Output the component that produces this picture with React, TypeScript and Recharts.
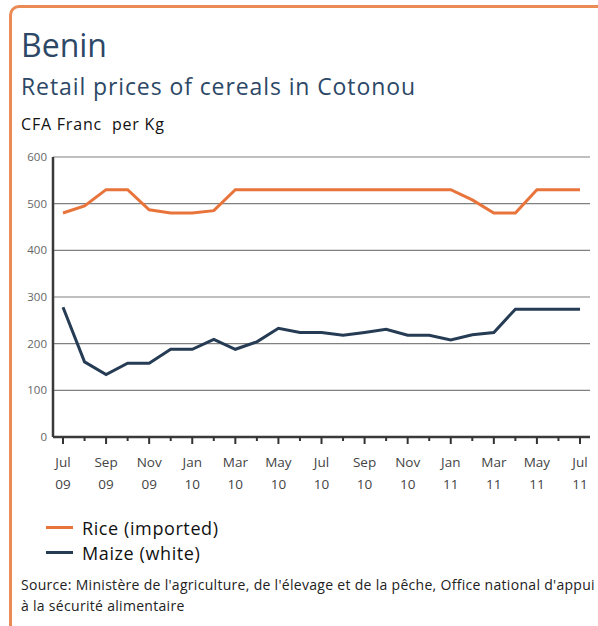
import React from 'react';
import { LineChart, Line, XAxis, YAxis, CartesianGrid } from 'recharts';

const periods = [
  'Jul 09', 'Aug 09', 'Sep 09', 'Oct 09', 'Nov 09', 'Dec 09',
  'Jan 10', 'Feb 10', 'Mar 10', 'Apr 10', 'May 10', 'Jun 10',
  'Jul 10', 'Aug 10', 'Sep 10', 'Oct 10', 'Nov 10', 'Dec 10',
  'Jan 11', 'Feb 11', 'Mar 11', 'Apr 11', 'May 11', 'Jun 11', 'Jul 11',
];

const rice = [
  480, 495, 530, 530, 487, 480, 480, 485, 530, 530, 530, 530,
  530, 530, 530, 530, 530, 530, 530, 508, 480, 480, 530, 530, 530,
];

const maize = [
  278, 161, 134, 158, 158, 188, 188, 209, 188, 204, 233, 224,
  224, 218, 224, 231, 218, 218, 208, 219, 224, 274, 274, 274, 274,
];

const yTicks = [0, 100, 200, 300, 400, 500, 600];

const data = periods.map((p, i) => ({ idx: i, period: p, rice: rice[i], maize: maize[i] }));

const FONT = '"Open Sans", Lato, sans-serif';
const ORANGE = '#e8743b';
const NAVY = '#263c55';

const MonthTick = (props: any) => {
  const { x, y, payload } = props;
  const i = payload.value as number;
  const major = i % 2 === 0;
  const [mon, yr] = periods[i].split(' ');
  return (
    <g>
      <line x1={x} x2={x} y1={y} y2={y + (major ? 7 : 4)} stroke="#333" strokeWidth={2} />
      {major && (
        <text x={x} y={y + 30} textAnchor="middle" fontSize={13.5} fill="#444" fontFamily={FONT}>
          {mon}
        </text>
      )}
      {major && (
        <text x={x} y={y + 52} textAnchor="middle" fontSize={13.5} fill="#444" fontFamily={FONT}>
          {yr}
        </text>
      )}
    </g>
  );
};

export default function App() {
  return (
    <div style={{ position: 'absolute', left: 0, top: 0, width: 598, height: 626, background: '#fff', fontFamily: FONT, overflow: 'hidden' }}>
      <div
        style={{
          position: 'absolute', left: 9, top: 5, width: 600, height: 640,
          borderTop: '3px solid #ea8a55', borderLeft: '3px solid #ea8a55', borderTopLeftRadius: 10,
        }}
      />
      <div style={{ position: 'absolute', left: 21, top: 25, fontSize: 32, lineHeight: '40px', color: '#2c4866' }}>Benin</div>
      <div style={{ position: 'absolute', left: 21, top: 71, fontSize: 23, lineHeight: '30px', letterSpacing: 0.9, color: '#2c4866' }}>
        Retail prices of cereals in Cotonou
      </div>
      <div style={{ position: 'absolute', left: 21, top: 113, fontSize: 16, lineHeight: '22px', letterSpacing: 0.8, color: '#111' }}>CFA Franc&nbsp; per Kg</div>

      <div style={{ position: 'absolute', left: 0, top: 140 }}>
        <LineChart width={598} height={357} data={data} margin={{ top: 17, right: 8, bottom: 0, left: 0 }}>
          <CartesianGrid vertical={false} stroke="#808080" strokeWidth={1.2} />
          <XAxis
            dataKey="idx"
            type="number"
            domain={[0, periods.length - 1]}
            ticks={periods.map((_, i) => i)}
            interval={0}
            padding={{ left: 10, right: 10 }}
            height={60}
            tickSize={0}
            tickMargin={0}
            tickLine={false}
            axisLine={{ stroke: '#3a3a3a', strokeWidth: 2.5 }}
            tick={<MonthTick />}
          />
          <YAxis
            domain={[0, 600]}
            ticks={yTicks}
            width={53}
            tickSize={0}
            tickMargin={6}
            tickLine={false}
            axisLine={{ stroke: '#3a3a3a', strokeWidth: 2.5 }}
            tick={{ fontSize: 11.5, fill: '#666', fontFamily: FONT }}
          />
          <Line dataKey="rice" stroke={ORANGE} strokeWidth={3} dot={false} isAnimationActive={false} />
          <Line dataKey="maize" stroke={NAVY} strokeWidth={3} dot={false} isAnimationActive={false} />
        </LineChart>
      </div>

      <div style={{ position: 'absolute', left: 46, top: 515, fontSize: 18, letterSpacing: 0.6, color: '#111' }}>
        <div style={{ display: 'flex', alignItems: 'center', height: 25 }}>
          <span style={{ display: 'inline-block', width: 27, height: 3, background: ORANGE, marginRight: 9 }} />
          Rice (imported)
        </div>
        <div style={{ display: 'flex', alignItems: 'center', height: 25 }}>
          <span style={{ display: 'inline-block', width: 27, height: 3, background: NAVY, marginRight: 9 }} />
          Maize (white)
        </div>
      </div>

      <div style={{ position: 'absolute', left: 21, top: 574, width: 577, fontSize: 14, lineHeight: '21px', letterSpacing: 0.3, color: '#222', whiteSpace: 'nowrap' }}>
        Source: Ministère de l'agriculture, de l'élevage et de la pêche, Office national d'appui
        <br />à la sécurité alimentaire
      </div>
    </div>
  );
}
